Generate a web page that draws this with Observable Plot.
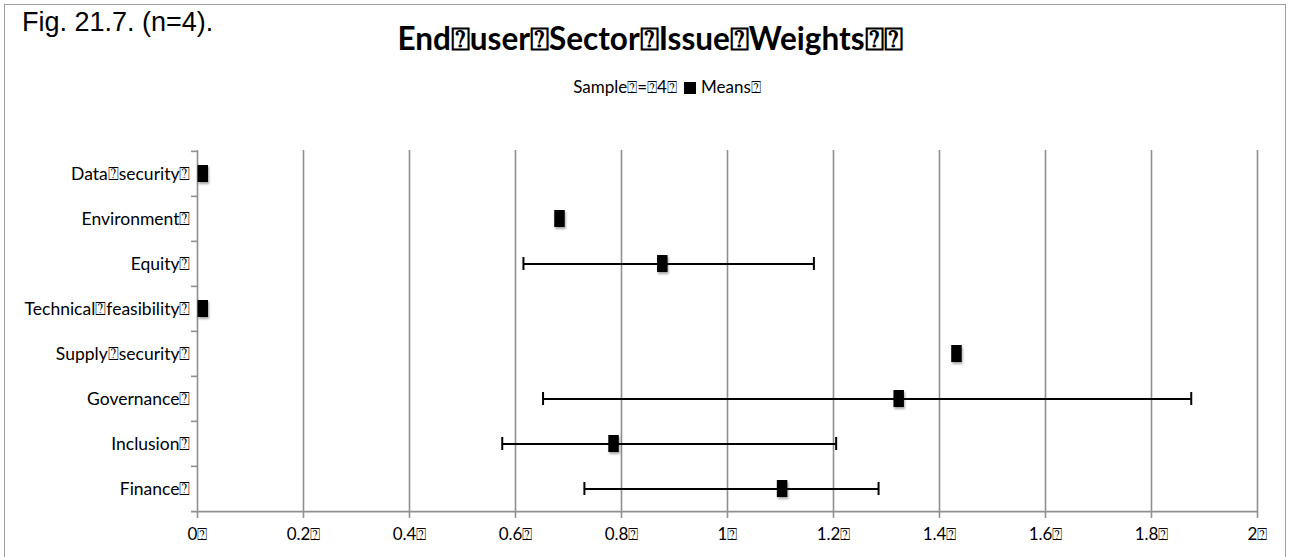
<!DOCTYPE html>
<html>
<head>
<meta charset="utf-8">
<script src="https://cdn.jsdelivr.net/npm/d3@7"></script>
<script src="https://cdn.jsdelivr.net/npm/@observablehq/plot@0.6"></script>
<style>
  html, body { margin: 0; padding: 0; background: #fff; }
  #wrap { position: relative; width: 1289px; height: 557px; overflow: hidden; }
  #border { position: absolute; left: 4px; top: 4px; width: 1282px; height: 570px; border: 1.5px solid #a0a0a0; box-sizing: border-box; }
  #fig { position: absolute; left: 22px; top: 7px; font: 27px "Liberation Sans", Arial, sans-serif; color: #000; white-space: nowrap; }
  #title { position: absolute; left: 0; width: 1300px; top: 19px; text-align: center; font: bold 31.5px Lato, "Open Sans", sans-serif; color: #000; white-space: nowrap; }
  #legend { position: absolute; left: 17px; width: 1300px; top: 76px; text-align: center; font: 17px Lato, "Open Sans", sans-serif; color: #000; white-space: nowrap; }
  #legend .sw { display: inline-block; width: 12px; height: 12px; background: #000; margin: 0 5px 0 7px; vertical-align: -1px; }
  #chart { position: absolute; left: 0; top: 0; }
  #chart .marker { filter: drop-shadow(1px 2px 1px rgba(0,0,0,0.35)); }
</style>
</head>
<body>
<div id="wrap">
  <div id="border"></div>
  <div id="fig">Fig. 21.7. (n=4).</div>
  <div id="title">End⍰user⍰Sector⍰Issue⍰Weights⍰⍰</div>
  <div id="legend">Sample⍰=⍰4⍰<span class="sw"></span>Means⍰</div>
  <div id="chart"></div>
</div>
<script>
const categories = ["Data⍰security⍰", "Environment⍰", "Equity⍰", "Technical⍰feasibility⍰", "Supply⍰security⍰", "Governance⍰", "Inclusion⍰", "Finance⍰"];
const means = [0.01, 0.683, 0.877, 0.01, 1.432, 1.323, 0.785, 1.103];
const lows  = [null, null, 0.615, null, null, 0.652, 0.575, 0.730];
const highs = [null, null, 1.163, null, null, 1.875, 1.205, 1.285];
const xTicks = [0, 0.2, 0.4, 0.6, 0.8, 1, 1.2, 1.4, 1.6, 1.8, 2];
const xTickLabels = ["0⍰", "0.2⍰", "0.4⍰", "0.6⍰", "0.8⍰", "1⍰", "1.2⍰", "1.4⍰", "1.6⍰", "1.8⍰", "2⍰"];

const rows = categories.map((c, i) => ({cat: c, mean: means[i], low: lows[i], high: highs[i]}));
const errRows = rows.filter(d => d.low != null && d.high != null);

const W = 1289, H = 557;
const mT = 150, mB = 45, mL = 197, mR = 32;
const band = (H - mT - mB) / categories.length;
const grey = "#8f8f8f";

const chart = Plot.plot({
  width: W, height: H,
  marginTop: mT, marginBottom: mB, marginLeft: mL, marginRight: mR,
  style: {fontFamily: "Lato, 'Open Sans', sans-serif", fontSize: "17px", color: "#000", background: "transparent"},
  x: {domain: [0, 2]},
  y: {domain: categories, padding: 0},
  marks: [
    // vertical gridlines
    Plot.ruleX(xTicks.filter(v => v > 0), {stroke: grey, strokeWidth: 1.6}),
    // x axis line extended left a little
    Plot.ruleY([0], {y: () => categories[categories.length - 1], dy: band / 2, x1: 0, x2: 2, stroke: grey, strokeWidth: 1.6, insetLeft: -6}),
    // left axis line
    Plot.ruleX([0], {stroke: grey, strokeWidth: 1.6}),
    // x axis ticks + labels
    Plot.axisX({ticks: xTicks, tickFormat: (d) => xTickLabels[xTicks.indexOf(d)], tickSize: 6, tickPadding: 9, stroke: grey, strokeWidth: 1.6, label: null, fill: "#000", fontSize: 17}),
    // y boundary ticks (between categories)
    Plot.axisY({tickSize: 6, tickFormat: () => "", dy: -band / 2, stroke: grey, strokeWidth: 1.6, label: null}),
    // y labels
    Plot.axisY({tickSize: 0, tickPadding: 7, label: null, fill: "#000", fontSize: 17.5}),
    // error bars
    Plot.ruleY(errRows, {y: "cat", x1: "low", x2: "high", stroke: "#000", strokeWidth: 2}),
    Plot.tickX(errRows, {x: "low", y: "cat", stroke: "#000", strokeWidth: 2, insetTop: 16, insetBottom: 16}),
    Plot.tickX(errRows, {x: "high", y: "cat", stroke: "#000", strokeWidth: 2, insetTop: 16, insetBottom: 16}),
    // mean markers
    Plot.tickX(rows, {x: "mean", y: "cat", stroke: "#000", strokeWidth: 10.5, insetTop: 14, insetBottom: 14, className: "marker"})
  ]
});
document.getElementById("chart").appendChild(chart);
</script>
</body>
</html>
